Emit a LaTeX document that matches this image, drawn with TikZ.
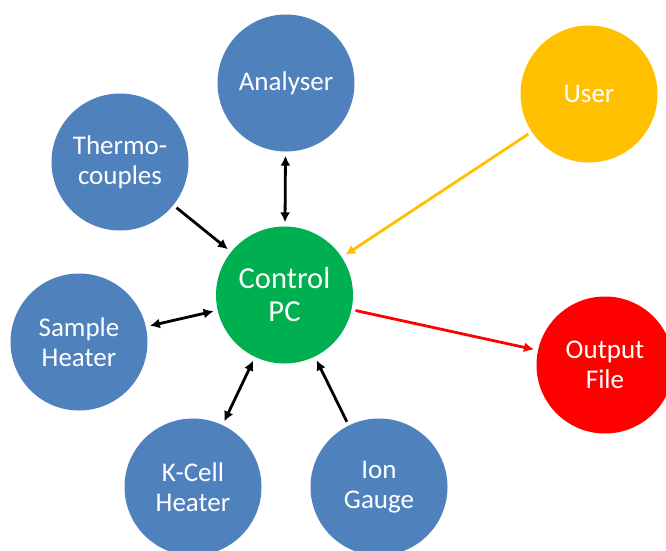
\documentclass[tikz,border=0pt]{standalone}
\usepackage{fontspec}
\setmainfont{Carlito}
\usepackage{xcolor}
\usetikzlibrary{arrows.meta}

\definecolor{unitblue}{HTML}{4F81BD}
\definecolor{pcgreen}{HTML}{00B050}
\definecolor{useryellow}{HTML}{FFC000}
\definecolor{filered}{HTML}{FF0000}

\begin{document}
\begin{tikzpicture}[x=1pt,y=-1pt,
    unit/.style={circle,fill=unitblue,minimum size=137pt,inner sep=0pt,
      text=white,align=center,font=\fontsize{27}{30}\selectfont},
    link/.style={line width=2.8pt,shorten <=4pt,shorten >=4pt},
    tip/.style={-{Latex[length=10pt,width=10pt]}},
    twotip/.style={{Latex[length=10pt,width=10pt]}-{Latex[length=10pt,width=10pt]}}]
    \useasboundingbox (0,0) rectangle (666,550);
    \clip (0,0) rectangle (666,550);
    % control computer in the middle
    \node[unit,fill=pcgreen,font=\fontsize{30.5}{33}\selectfont] (pc) at (284.5,295) {Control\\PC};
    % instruments round it
    \node[unit] (analyser) at (286,83) {Analyser};
    \node[unit] (thermo) at (120,162) {Thermo-\\couples};
    \node[unit] (sample) at (79,342) {Sample\\Heater};
    \node[unit] (kcell) at (193,487) {K-Cell\\Heater};
    \node[unit] (ion) at (379,487) {Ion\\Gauge};
    \node[unit,fill=useryellow] (user) at (589,94) {User};
    \node[unit,fill=filered] (output) at (605,365) {Output\\File};
    % connections
    \draw[link,twotip] (analyser) -- (pc);
    \draw[link,tip] (thermo) -- (pc);
    \draw[link,twotip] (sample) -- (pc);
    \draw[link,twotip] (kcell) -- (pc);
    \draw[link,tip] (ion) -- (pc);
    \draw[link,tip,useryellow] (user) -- (pc);
    \draw[link,tip,filered] (pc) -- (output);
\end{tikzpicture}
\end{document}
